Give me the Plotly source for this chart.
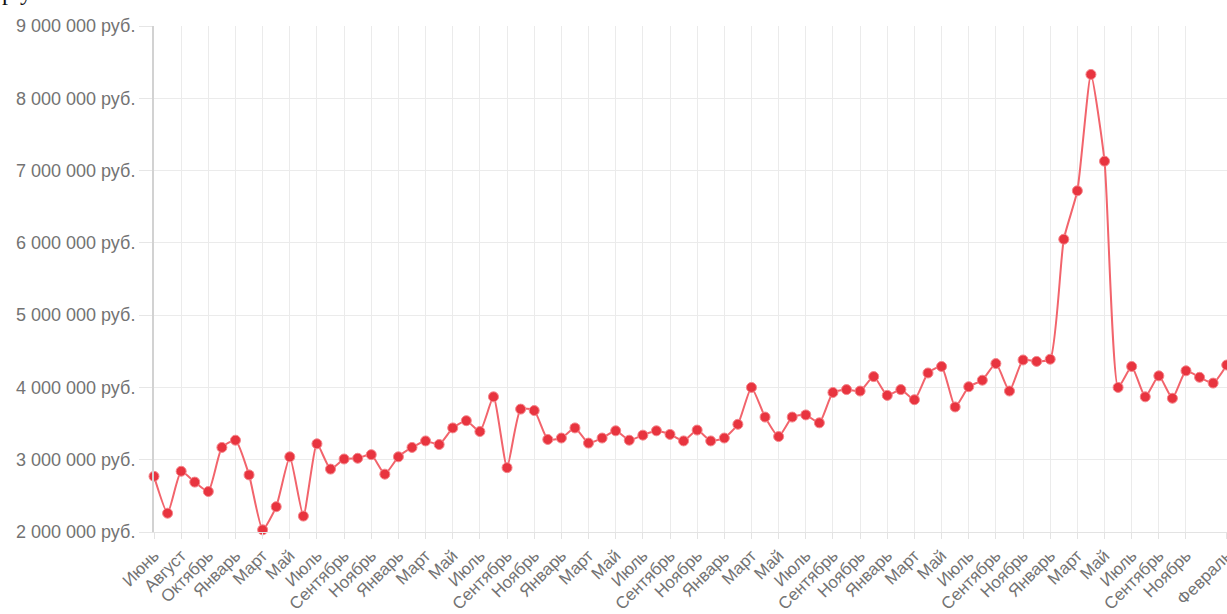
import plotly.graph_objects as go

# Month of each observation (one value per month; one calendar month is absent early in the series)
months = [
    "Июнь", "Июль", "Август", "Сентябрь", "Октябрь", "Декабрь",
    "Январь", "Февраль", "Март", "Апрель", "Май", "Июнь", "Июль", "Август",
    "Сентябрь", "Октябрь", "Ноябрь", "Декабрь",
    "Январь", "Февраль", "Март", "Апрель", "Май", "Июнь", "Июль", "Август",
    "Сентябрь", "Октябрь", "Ноябрь", "Декабрь",
    "Январь", "Февраль", "Март", "Апрель", "Май", "Июнь", "Июль", "Август",
    "Сентябрь", "Октябрь", "Ноябрь", "Декабрь",
    "Январь", "Февраль", "Март", "Апрель", "Май", "Июнь", "Июль", "Август",
    "Сентябрь", "Октябрь", "Ноябрь", "Декабрь",
    "Январь", "Февраль", "Март", "Апрель", "Май", "Июнь", "Июль", "Август",
    "Сентябрь", "Октябрь", "Ноябрь", "Декабрь",
    "Январь", "Февраль", "Март", "Апрель", "Май", "Июнь", "Июль", "Август",
    "Сентябрь", "Октябрь", "Ноябрь", "Декабрь",
    "Январь", "Февраль",
]

# Average price, million roubles
price_mln = [
    2.77, 2.26, 2.84, 2.69, 2.56, 3.17, 3.27, 2.79, 2.03, 2.35,
    3.04, 2.22, 3.22, 2.87, 3.01, 3.02, 3.07, 2.80, 3.04, 3.17,
    3.26, 3.21, 3.44, 3.54, 3.39, 3.87, 2.89, 3.70, 3.68, 3.28,
    3.30, 3.44, 3.23, 3.30, 3.40, 3.27, 3.34, 3.40, 3.35, 3.26,
    3.41, 3.26, 3.30, 3.49, 4.00, 3.59, 3.32, 3.59, 3.62, 3.51,
    3.93, 3.97, 3.95, 4.15, 3.89, 3.97, 3.83, 4.20, 4.29, 3.73,
    4.01, 4.10, 4.33, 3.95, 4.38, 4.36, 4.39, 6.05, 6.72, 8.33,
    7.13, 4.00, 4.29, 3.87, 4.16, 3.85, 4.23, 4.14, 4.06, 4.31,
]

y_ticks = [2, 3, 4, 5, 6, 7, 8, 9]
y_tick_text = [f"{v} 000 000 руб." for v in y_ticks]

idx = list(range(len(months)))
prices = [round(v * 1_000_000) for v in price_mln]

# every second month is labelled; the last month is always labelled,
# so the label just before it is dropped
label_idx = idx[:-2:2] + [idx[-1]]
label_text = [months[i] for i in label_idx]

fig = go.Figure(
    go.Scatter(
        x=idx,
        y=prices,
        mode="lines+markers",
        line=dict(color="#f2646c", width=2, shape="spline", smoothing=0.5),
        marker=dict(size=10, color="#e8343f", line=dict(color="#f5858b", width=1)),
        cliponaxis=False,
        hovertext=months,
    )
)

fig.update_layout(
    width=1227,
    height=614,
    margin=dict(l=154, r=0, t=26, b=82),
    paper_bgcolor="white",
    plot_bgcolor="white",
    showlegend=False,
    font=dict(family="Liberation Sans, Arial, sans-serif", color="#737373", size=18),
)

fig.update_xaxes(
    range=[0, len(months) - 1 + 0.02],
    tickmode="array",
    tickvals=label_idx,
    ticktext=label_text,
    tickangle=-45,
    ticklabeloverflow="allow",
    showgrid=True,
    gridcolor="#ebebeb",
    gridwidth=1,
    ticks="outside",
    ticklen=6,
    tickcolor="#e3e3e3",
    showline=True,
    linecolor="#e3e3e3",
    linewidth=1,
    zeroline=False,
    automargin=False,
    tickfont=dict(size=17),
)

fig.update_yaxes(
    range=[2_000_000, 9_000_000],
    tickmode="array",
    tickvals=[v * 1_000_000 for v in y_ticks],
    ticktext=y_tick_text,
    showgrid=True,
    gridcolor="#ebebeb",
    gridwidth=1,
    ticks="outside",
    ticklen=13,
    tickcolor="#e6e6e6",
    showline=True,
    linecolor="#d2d2d2",
    linewidth=2,
    zeroline=False,
    automargin=False,
    tickfont=dict(size=18),
)

# descenders of the page heading above the chart
fig.add_annotation(
    text="р у",
    xref="paper", yref="paper",
    x=-154 / 1073, y=1 + 26 / 506,
    xanchor="left", yanchor="middle",
    yshift=8,
    showarrow=False,
    font=dict(family="Liberation Serif, serif", size=24, color="#111"),
)

fig.write_html("out.html")
